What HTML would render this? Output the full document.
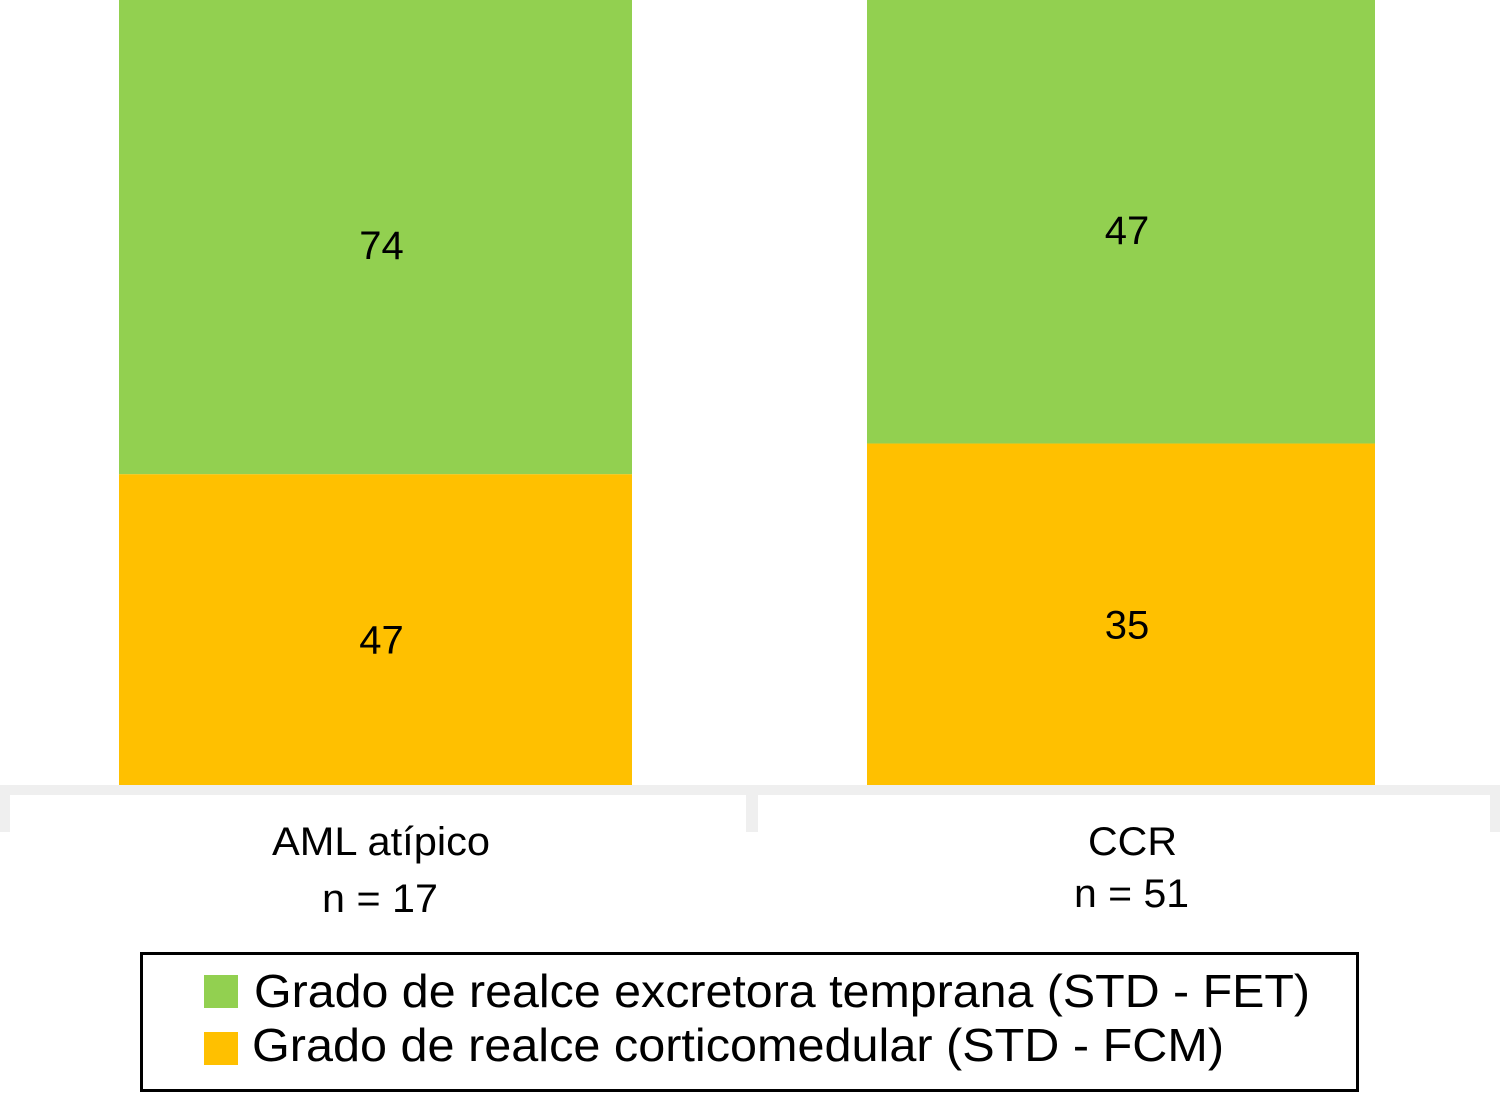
<!DOCTYPE html>
<html><head><meta charset="utf-8"><style>
body{margin:0;width:1500px;height:1094px;background:#fff;overflow:hidden;font-family:"Liberation Sans",sans-serif}
</style></head><body>
<svg id="chart" width="1500" height="1094" xmlns="http://www.w3.org/2000/svg" font-family="Liberation Sans, sans-serif">
<rect x="0" y="785" width="1500" height="10" fill="#efefef"/>
<rect x="0" y="785" width="10" height="47" fill="#efefef"/>
<rect x="746" y="785" width="12" height="47" fill="#efefef"/>
<rect x="1490" y="785" width="10" height="47" fill="#efefef"/>
<g id="bars"></g>
<text x="272" y="855" font-size="40" textLength="218" lengthAdjust="spacingAndGlyphs">AML atípico</text>
<text x="322" y="912" font-size="40" textLength="116" lengthAdjust="spacingAndGlyphs">n = 17</text>
<text x="1088" y="855" font-size="40" textLength="89" lengthAdjust="spacingAndGlyphs">CCR</text>
<text x="1074" y="907" font-size="40" textLength="115" lengthAdjust="spacingAndGlyphs">n = 51</text>
<g>
<rect x="141.5" y="953.5" width="1216" height="137" fill="none" stroke="#000" stroke-width="3"/>
<rect x="204" y="975" width="34" height="33" fill="#92d050"/>
<text x="254" y="1007" font-size="46" textLength="1056" lengthAdjust="spacingAndGlyphs">Grado de realce excretora temprana (STD - FET)</text>
<rect x="204" y="1032" width="34" height="33" fill="#ffc000"/>
<text x="252" y="1061" font-size="46" textLength="972" lengthAdjust="spacingAndGlyphs">Grado de realce corticomedular (STD - FCM)</text>
</g>
</svg>
<script>
const categories=["AML atípico","CCR"];
const fcmValues=[47,35];
const fetValues=[74,47];
const barX=[119,867], barW=[513,508];
const bottom=785, fullH=800;
const g=document.getElementById('bars');
const ns='http://www.w3.org/2000/svg';
function y(frac){return bottom-frac*fullH;}
categories.forEach((c,i)=>{
  const tot=fcmValues[i]+fetValues[i];
  const yo=y(fcmValues[i]/tot);
  const rg=document.createElementNS(ns,'rect');
  
  
  rg.setAttribute('x',barX[i]);rg.setAttribute('y',y(1));rg.setAttribute('width',barW[i]);rg.setAttribute('height',yo-y(1));rg.setAttribute('fill','#92d050');
  g.appendChild(rg);
  const ro=document.createElementNS(ns,'rect');
  
  
  ro.setAttribute('x',barX[i]);ro.setAttribute('y',yo);ro.setAttribute('width',barW[i]);ro.setAttribute('height',bottom-yo);ro.setAttribute('fill','#ffc000');
  g.appendChild(ro);
  const cx=barX[i]+barW[i]/2+6;
  const t1=document.createElementNS(ns,'text');
  
  
  t1.setAttribute('x',cx);t1.setAttribute('y',(Math.max(0,y(1))+yo)/2+22);t1.setAttribute('font-size','40');t1.setAttribute('text-anchor','middle');
  t1.textContent=fetValues[i];g.appendChild(t1);
  const t2=document.createElementNS(ns,'text');
  
  
  t2.setAttribute('x',cx);t2.setAttribute('y',(yo+bottom)/2+24);t2.setAttribute('font-size','40');t2.setAttribute('text-anchor','middle');
  t2.textContent=fcmValues[i];g.appendChild(t2);
});
</script>
</body></html>
